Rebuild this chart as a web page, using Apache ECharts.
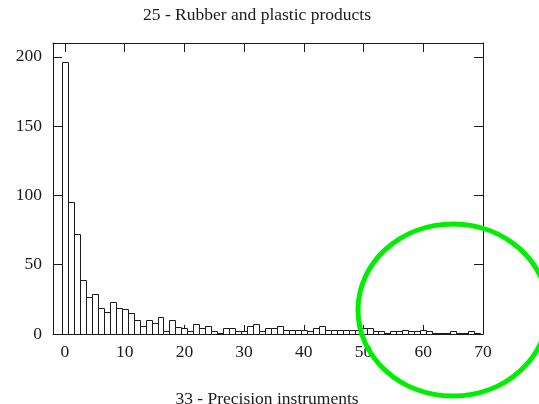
<!DOCTYPE html>
<html>
<head>
<meta charset="utf-8">
<script src="https://cdn.jsdelivr.net/npm/echarts@6/dist/echarts.min.js"></script>
<style>
  html, body { margin: 0; padding: 0; background: #fff; }
  #chart { width: 539px; height: 404px; }
</style>
</head>
<body>
<div id="chart"></div>
<script>
// Histogram bins (integer positions) and their counts
const binPositions = [
  0, 1, 2, 3, 4, 5, 6, 7, 8, 9,
  10, 11, 12, 13, 14, 15, 16, 17, 18, 19,
  20, 21, 22, 23, 24, 25, 26, 27, 28, 29,
  30, 31, 32, 33, 34, 35, 36, 37, 38, 39,
  40, 41, 42, 43, 44, 45, 46, 47, 48, 49,
  50, 51, 52, 53, 54, 55, 56, 57, 58, 59,
  60, 61, 62, 63, 64, 65, 66, 67, 68, 69
];
const binCounts = [
  196, 95, 72, 39, 27, 29, 19, 16, 23, 19,
  18, 15, 10, 6, 10, 8, 12, 2, 10, 5,
  4, 2, 7, 4, 6, 2, 1, 4, 4, 2,
  2, 6, 7, 2, 4, 4, 6, 3, 3, 3,
  3, 2, 4, 6, 3, 3, 3, 3, 3, 3,
  4, 4, 2, 2, 1, 2, 2, 3, 2, 2,
  3, 2, 1, 1, 1, 2, 1, 1, 2, 1
];

const xTicks = [0, 10, 20, 30, 40, 50, 60, 70];
const yTicks = [0, 50, 100, 150, 200];

const titleText = '25 - Rubber and plastic products';
const nextTitleText = '33 - Precision instruments';

const serif = '"Liberation Serif", "DejaVu Serif", serif';
const ink = '#1a1a1a';

const chart = echarts.init(document.getElementById('chart'), null, { renderer: 'canvas' });

const frameLine = { show: true, onZero: false, lineStyle: { color: ink, width: 1 } };
const inwardTicks = (values) => ({
  show: true, inside: true, length: 9, customValues: values,
  lineStyle: { color: ink, width: 1 }
});

const option = {
  backgroundColor: '#ffffff',
  animation: false,
  grid: { left: 53, right: 56, top: 43, bottom: 70 },
  xAxis: [
    {
      type: 'value', position: 'bottom',
      min: -2, max: 70,
      axisLine: frameLine,
      axisTick: inwardTicks(xTicks),
      splitLine: { show: false },
      axisLabel: {
        show: true, color: ink, fontFamily: serif, fontSize: 17.5, margin: 9,
        customValues: xTicks
      }
    },
    {
      type: 'value', position: 'top',
      min: -2, max: 70,
      axisLine: frameLine,
      axisTick: inwardTicks(xTicks),
      splitLine: { show: false },
      axisLabel: { show: false }
    }
  ],
  yAxis: [
    {
      type: 'value', position: 'left',
      min: 0, max: 210,
      axisLine: frameLine,
      axisTick: inwardTicks(yTicks),
      splitLine: { show: false },
      axisLabel: {
        show: true, color: ink, fontFamily: serif, fontSize: 17.5, margin: 11,
        customValues: yTicks
      }
    },
    {
      type: 'value', position: 'right',
      min: 0, max: 210,
      axisLine: frameLine,
      axisTick: inwardTicks(yTicks),
      splitLine: { show: false },
      axisLabel: { show: false }
    }
  ],
  series: [{
    type: 'custom',
    xAxisIndex: 0,
    yAxisIndex: 0,
    data: binPositions.map((x, i) => [x, binCounts[i]]),
    encode: { x: 0, y: 1 },
    clip: true,
    renderItem: function (params, api) {
      const x = api.value(0);
      const y = api.value(1);
      const topLeft = api.coord([x - 0.5, y]);
      const bottomRight = api.coord([x + 0.5, 0]);
      return {
        type: 'rect',
        shape: {
          x: Math.round(topLeft[0]) + 0.5,
          y: Math.round(topLeft[1]) + 0.5,
          width: Math.round(bottomRight[0]) - Math.round(topLeft[0]),
          height: Math.round(bottomRight[1]) - Math.round(topLeft[1])
        },
        style: { fill: '#ffffff', stroke: ink, lineWidth: 1 }
      };
    }
  }],
  graphic: [
    {
      type: 'text', x: 257, y: 15,
      style: {
        text: titleText, fill: ink, font: '17.5px ' + serif,
        textAlign: 'center', textVerticalAlign: 'middle'
      }
    },
    {
      type: 'text', x: 267, y: 399,
      style: {
        text: nextTitleText, fill: ink, font: '17.5px ' + serif,
        textAlign: 'center', textVerticalAlign: 'middle'
      }
    },
    {
      type: 'ellipse', z: 100,
      shape: { cx: 453, cy: 310, rx: 95, ry: 86 },
      style: { fill: 'none', stroke: '#00ee00', lineWidth: 5 }
    }
  ]
};

chart.setOption(option);
</script>
</body>
</html>
